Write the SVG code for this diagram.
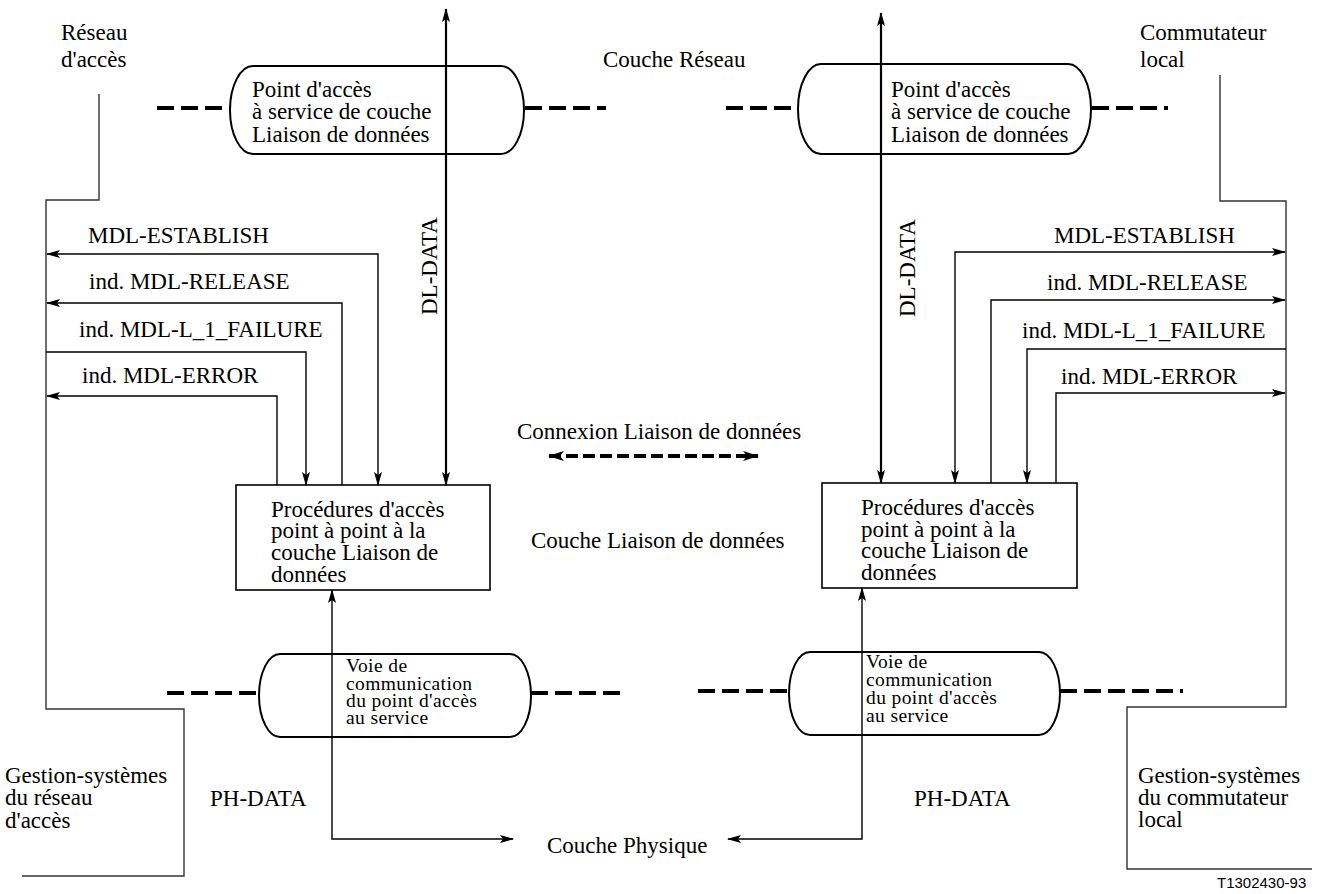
<svg xmlns="http://www.w3.org/2000/svg" width="1324" height="894" viewBox="0 0 1324 894">
  <style>
    text { font-family: "Liberation Serif", "Times New Roman", serif; font-size: 23px; fill: #000; }
    .small { font-size: 19.5px; letter-spacing: 0.4px; }
    .ref { font-family: "Liberation Sans", Arial, sans-serif; font-size: 15px; }
    .tank { fill: #fff; stroke: #000; stroke-width: 2; }
    .box { fill: #fff; stroke: #000; stroke-width: 1.6; }
    .sap { fill: none; stroke: #000; stroke-width: 4; stroke-dasharray: 17 7; }
    .mgmt { fill: none; stroke: #333; stroke-width: 1.4; }
    .sig { fill: none; stroke: #000; stroke-width: 1.4; }
    .data { fill: none; stroke: #000; stroke-width: 2.2; }
    .conn { fill: none; stroke: #000; stroke-width: 4; stroke-dasharray: 12 5; }
  </style>
  <defs>
    <marker id="arrow" viewBox="0 0 14 8" refX="13" refY="4" markerWidth="14" markerHeight="8" markerUnits="userSpaceOnUse" orient="auto-start-reverse">
      <path d="M0,0 L14,4 L0,8 L3,4 Z" fill="#000"/>
    </marker>
    <marker id="arrowBig" viewBox="0 0 16 10" refX="15" refY="5" markerWidth="16" markerHeight="10" markerUnits="userSpaceOnUse" orient="auto-start-reverse">
      <path d="M0,0 L16,5 L0,10 L4,5 Z" fill="#000"/>
    </marker>
  </defs>

  <rect width="1324" height="894" fill="#fff"/>

  <!-- Layer and side labels -->
  <g id="label-reseau-acces">
    <text x="61" y="40">Réseau</text>
    <text x="61" y="67">d'accès</text>
  </g>
  <g id="label-commutateur">
    <text x="1140" y="40">Commutateur</text>
    <text x="1140" y="67">local</text>
  </g>
  <g id="label-couche-reseau">
    <text x="603" y="67">Couche Réseau</text>
  </g>
  <g id="label-connexion">
    <text x="517" y="439">Connexion Liaison de données</text>
  </g>
  <g id="label-couche-liaison">
    <text x="531" y="548">Couche Liaison de données</text>
  </g>
  <g id="label-couche-physique">
    <text x="547" y="853">Couche Physique</text>
  </g>
  <g id="label-gestion-left">
    <text x="5" y="783">Gestion-systèmes</text>
    <text x="5" y="805">du réseau</text>
    <text x="5" y="828">d'accès</text>
  </g>
  <g id="label-gestion-right">
    <text x="1138" y="783">Gestion-systèmes</text>
    <text x="1138" y="805">du commutateur</text>
    <text x="1138" y="827">local</text>
  </g>
  <g id="label-ref">
    <text class="ref" x="1217" y="888">T1302430-93</text>
  </g>

  <!-- Management system boundaries -->
  <g id="mgmt-lines">
    <path class="mgmt" d="M99,94 V200 H46 V709 H184 V876 H22"/>
    <path class="mgmt" d="M1220,75 V201 H1286 V707 H1127 V869 H1312"/>
  </g>

  <!-- Service access point dashed boundaries -->
  <g id="sap-lines">
    <path class="sap" d="M157,108 H230"/>
    <path class="sap" d="M525,108 H606"/>
    <path class="sap" d="M726,108 H798"/>
    <path class="sap" d="M1092,108 H1168"/>
    <path class="sap" d="M167,693 H259"/>
    <path class="sap" d="M531,693 H620"/>
    <path class="sap" d="M698,691 H789"/>
    <path class="sap" d="M1060,691 H1183"/>
  </g>

  <!-- Data link layer SAP tanks -->
  <g id="sap-top-left">
    <path class="tank" d="M253,66 H501 A23,44 0 0 1 501,154 H253 A23,44 0 0 1 253,66 Z"/>
    <text x="252" y="97">Point d'accès</text>
    <text x="252" y="119">à service de couche</text>
    <text x="252" y="142">Liaison de données</text>
  </g>
  <g id="sap-top-right">
    <path class="tank" d="M821,64 H1068 A23,45 0 0 1 1068,154 H821 A23,45 0 0 1 821,64 Z"/>
    <text x="891" y="97">Point d'accès</text>
    <text x="891" y="119">à service de couche</text>
    <text x="891" y="142">Liaison de données</text>
  </g>

  <!-- Physical layer SAP tanks -->
  <g id="sap-bottom-left">
    <path class="tank" d="M280,654 H510 A21,41.5 0 0 1 510,737 H280 A21,41.5 0 0 1 280,654 Z"/>
    <text class="small" x="346" y="672">Voie de</text>
    <text class="small" x="346" y="690">communication</text>
    <text class="small" x="346" y="707">du point d'accès</text>
    <text class="small" x="346" y="724">au service</text>
  </g>
  <g id="sap-bottom-right">
    <path class="tank" d="M810,652 H1039 A21,41.5 0 0 1 1039,735 H810 A21,41.5 0 0 1 810,652 Z"/>
    <text class="small" x="866" y="668">Voie de</text>
    <text class="small" x="866" y="686">communication</text>
    <text class="small" x="866" y="704">du point d'accès</text>
    <text class="small" x="866" y="722">au service</text>
  </g>

  <!-- Point-to-point procedure boxes -->
  <g id="proc-left">
    <rect class="box" x="236" y="485" width="254" height="105"/>
    <text x="271" y="517">Procédures d'accès</text>
    <text x="271" y="538">point à point à la</text>
    <text x="271" y="560">couche Liaison de</text>
    <text x="271" y="582">données</text>
  </g>
  <g id="proc-right">
    <rect class="box" x="822" y="483" width="255" height="105"/>
    <text x="861" y="515">Procédures d'accès</text>
    <text x="861" y="537">point à point à la</text>
    <text x="861" y="558">couche Liaison de</text>
    <text x="861" y="580">données</text>
  </g>

  <!-- Primitives -->
  <g id="connectors">
    <!-- left side -->
    <path class="data" d="M446,9 V485" marker-start="url(#arrow)" marker-end="url(#arrow)"/>
    <path class="sig" d="M47,254 H378 V485" marker-start="url(#arrow)" marker-end="url(#arrow)"/>
    <path class="sig" d="M342,485 V303 H47" marker-end="url(#arrow)"/>
    <path class="sig" d="M46,352 H306 V485" marker-end="url(#arrow)"/>
    <path class="sig" d="M277,485 V396 H47" marker-end="url(#arrow)"/>
    <path class="sig" d="M332,590 V839 H513" marker-start="url(#arrow)" marker-end="url(#arrow)"/>
    <!-- right side -->
    <path class="data" d="M881,13 V483" marker-start="url(#arrow)" marker-end="url(#arrow)"/>
    <path class="sig" d="M1285,252 H955 V483" marker-start="url(#arrow)" marker-end="url(#arrow)"/>
    <path class="sig" d="M991,483 V300 H1285" marker-end="url(#arrow)"/>
    <path class="sig" d="M1286,349 H1027 V483" marker-end="url(#arrow)"/>
    <path class="sig" d="M1056,483 V393 H1285" marker-end="url(#arrow)"/>
    <path class="sig" d="M862,588 V839 H728" marker-start="url(#arrow)" marker-end="url(#arrow)"/>
    <!-- peer-to-peer data link connection -->
    <path class="conn" d="M549,456 H758" marker-start="url(#arrowBig)" marker-end="url(#arrowBig)"/>
  </g>

  <!-- Primitive labels -->
  <g id="primitive-labels">
    <text x="88" y="243">MDL-ESTABLISH</text>
    <text x="89" y="289">ind. MDL-RELEASE</text>
    <text x="79" y="337">ind. MDL-L_1_FAILURE</text>
    <text x="82" y="383">ind. MDL-ERROR</text>
    <text x="1054" y="243">MDL-ESTABLISH</text>
    <text x="1047" y="290">ind. MDL-RELEASE</text>
    <text x="1022" y="338">ind. MDL-L_1_FAILURE</text>
    <text x="1061" y="384">ind. MDL-ERROR</text>
    <text transform="translate(437,315) rotate(-90)">DL-DATA</text>
    <text transform="translate(915,317) rotate(-90)">DL-DATA</text>
    <text x="210" y="806">PH-DATA</text>
    <text x="914" y="806">PH-DATA</text>
  </g>
</svg>
